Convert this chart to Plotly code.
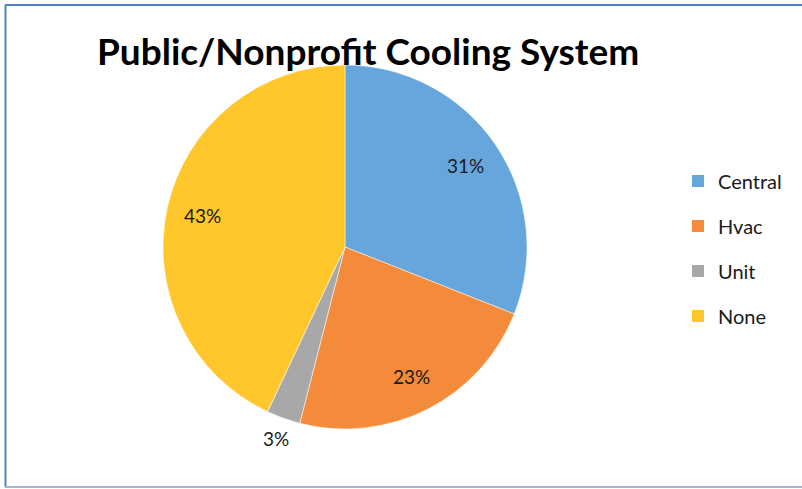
import math
import plotly.graph_objects as go

# Cooling system shares for public / nonprofit buildings
labels = ["Central", "Hvac", "Unit", "None"]
values = [31, 23, 3, 43]
colors = ["#67A6DD", "#F38B3A", "#A8A8A8", "#FFC72C"]
label_outside = [False, False, True, False]

W, H = 802, 489
FONT = "Lato"

# pie placement (pixels)
pie_left, pie_right, pie_top, pie_bottom = 163, 527, 65, 429
cx_px = (pie_left + pie_right) / 2
cy_px = (pie_top + pie_bottom) / 2
radius = (pie_right - pie_left) / 2

fig = go.Figure()
fig.add_trace(go.Pie(
    labels=labels,
    values=values,
    sort=False,
    direction="clockwise",
    rotation=0,
    marker=dict(colors=colors, line=dict(color="white", width=0.5)),
    textinfo="none",
    hoverinfo="label+percent",
    showlegend=False,
    domain=dict(x=[pie_left / W, pie_right / W], y=[1 - pie_bottom / H, 1 - pie_top / H]),
))

# percentage labels placed along each slice's bisector
total = sum(values)
cum = 0
for lab, v, out in zip(labels, values, label_outside):
    mid = (cum + v / 2) / total * 2 * math.pi
    cum += v
    r = radius * (1.12 if out else 0.8)
    px = cx_px + r * math.sin(mid)
    py = cy_px - r * math.cos(mid)
    fig.add_annotation(
        x=px / W, y=1 - py / H, xref="paper", yref="paper",
        text=f"{round(v / total * 100)}%", showarrow=False,
        font=dict(family=FONT, size=19, color="#1a1a1a"),
        xanchor="center", yanchor="middle",
    )

# legend entries
for lab, c in zip(labels, colors):
    fig.add_trace(go.Scatter(
        x=[None], y=[None], mode="markers", name=lab, legendgroup=lab,
        marker=dict(symbol="square", size=12, color=c),
    ))

fig.add_annotation(
    x=368 / W, y=1 - 50 / H, xref="paper", yref="paper",
    text="<b>Public/Nonprofit Cooling System</b>", showarrow=False,
    font=dict(family=FONT, size=37, color="#000000"),
    xanchor="center", yanchor="middle",
)

# frame
fig.add_shape(type="line", xref="paper", yref="paper",
              x0=5.5 / W, x1=5.5 / W, y0=1 - 487 / H, y1=1 - 5 / H,
              line=dict(color="#4F81BD", width=2))
fig.add_shape(type="line", xref="paper", yref="paper",
              x0=5 / W, x1=1.01, y0=1 - 5 / H, y1=1 - 5 / H,
              line=dict(color="#4F81BD", width=2))
fig.add_shape(type="line", xref="paper", yref="paper",
              x0=5 / W, x1=1.01, y0=1 - 487 / H, y1=1 - 487 / H,
              line=dict(color="#A3B6CE", width=2))

fig.update_layout(
    width=W, height=H,
    margin=dict(l=0, r=0, t=0, b=0),
    paper_bgcolor="white", plot_bgcolor="white",
    xaxis=dict(visible=False), yaxis=dict(visible=False),
    legend=dict(
        x=678 / W, y=1 - 161.5 / H, xanchor="left", yanchor="top",
        font=dict(family=FONT, size=20, color="#1a1a1a"),
        tracegroupgap=16, traceorder="grouped",
        bgcolor="rgba(0,0,0,0)",
    ),
    font=dict(family=FONT),
)

fig.write_html("out.html")
